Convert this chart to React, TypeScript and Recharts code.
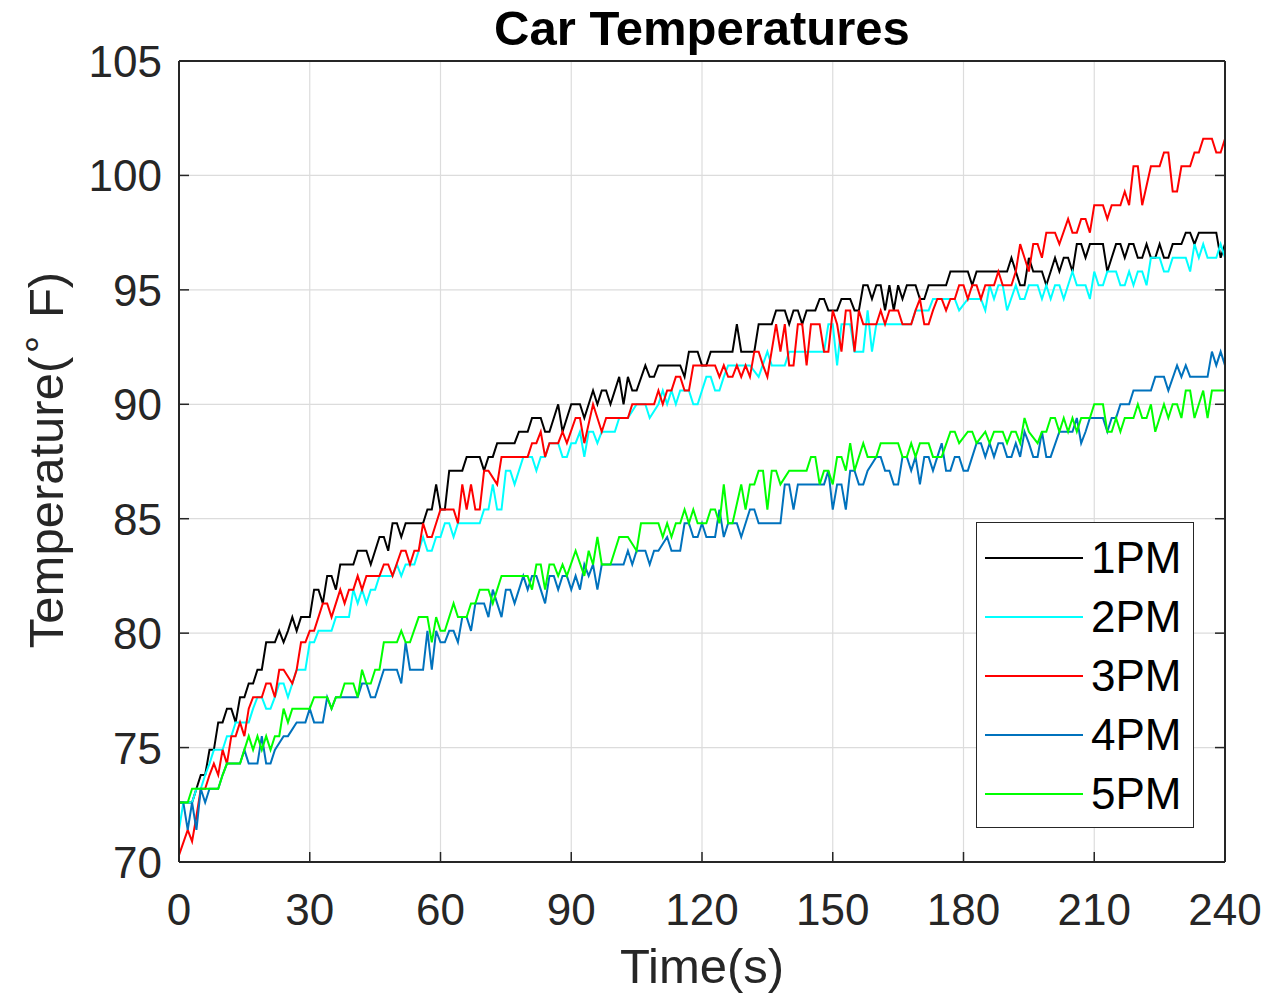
import React from 'react';
import { LineChart, Line, XAxis, YAxis, CartesianGrid, Legend } from 'recharts';

type P = [number, number];

const xTicks = [0, 30, 60, 90, 120, 150, 180, 210, 240];
const yTicks = [70, 75, 80, 85, 90, 95, 100, 105];

// time (s), temperature (°F)
const s1PM: P[] = [[0,72.6],[3,72.6],[4,73.2],[5,73.8],[6,73.8],[7,74.9],[8,74.9],[9,76.1],[10,76.1],[11,76.7],[12,76.7],[13,76.1],[14,77.2],[15,77.2],[16,77.8],[17,77.8],[18,78.4],[19,78.4],[20,79.6],[22,79.6],[23,80.1],[24,79.6],[25,80.1],[26,80.7],[27,80.1],[28,80.7],[30,80.7],[31,81.9],[32,81.9],[33,81.3],[34,82.5],[35,82.5],[36,81.9],[37,83.0],[40,83.0],[41,83.6],[43,83.6],[44,83.0],[46,84.2],[47,84.2],[48,83.6],[49,84.8],[50,84.8],[51,84.2],[52,84.8],[56,84.8],[57,85.4],[58,85.4],[59,86.5],[60,85.4],[61,85.4],[62,87.1],[65,87.1],[66,87.7],[69,87.7],[70,87.1],[71,87.7],[72,87.7],[73,88.3],[77,88.3],[78,88.8],[80,88.8],[81,89.4],[83,89.4],[84,88.8],[85,88.8],[87,90.0],[88,88.8],[90,90.0],[92,90.0],[93,89.4],[95,90.6],[96,90.0],[97,90.6],[98,90.6],[99,90.0],[101,91.2],[102,90.0],[103,91.2],[104,90.6],[105,90.6],[107,91.7],[108,91.2],[109,91.2],[110,91.7],[115,91.7],[116,91.2],[117,92.3],[119,92.3],[120,91.7],[121,91.7],[122,92.3],[127,92.3],[128,93.5],[129,92.3],[132,92.3],[133,93.5],[136,93.5],[137,94.1],[139,94.1],[140,93.5],[141,94.1],[142,94.1],[143,93.5],[144,94.1],[146,94.1],[147,94.6],[148,94.6],[149,94.1],[151,94.1],[152,94.6],[154,94.6],[155,94.1],[156,94.1],[157,95.2],[158,95.2],[159,94.6],[160,95.2],[161,95.2],[162,94.1],[163,95.2],[164,94.1],[165,95.2],[166,94.6],[167,95.2],[169,95.2],[170,94.6],[171,94.6],[172,95.2],[176,95.2],[177,95.8],[181,95.8],[182,95.2],[183,95.8],[190,95.8],[191,96.4],[192,95.8],[193,95.2],[194,95.2],[195,96.4],[196,95.8],[198,95.8],[199,95.2],[201,96.4],[202,95.8],[203,96.4],[204,96.4],[205,95.8],[206,97.0],[207,97.0],[208,96.4],[209,97.0],[212,97.0],[213,95.8],[214,96.4],[215,97.0],[216,97.0],[217,96.4],[218,97.0],[219,97.0],[220,96.4],[221,96.4],[222,97.0],[223,96.4],[224,96.4],[225,97.0],[226,96.4],[227,96.4],[228,97.0],[230,97.0],[231,97.5],[232,97.5],[233,97.0],[234,97.5],[238,97.5],[239,96.4],[240,97.0]];

const s2PM: P[] = [[0,71.4],[1,72.6],[3,72.6],[4,73.2],[5,73.2],[6,73.8],[7,74.3],[8,74.9],[10,74.9],[11,75.5],[12,75.5],[13,76.1],[16,76.1],[17,76.7],[18,77.2],[19,77.2],[20,76.7],[21,76.7],[22,77.2],[23,77.8],[24,77.8],[25,77.2],[26,77.8],[27,78.4],[29,78.4],[30,79.6],[31,79.6],[32,80.1],[35,80.1],[36,80.7],[39,80.7],[40,81.9],[41,81.3],[42,81.9],[43,81.3],[44,81.9],[45,81.9],[46,82.5],[49,82.5],[50,83.0],[51,82.5],[52,83.0],[54,83.0],[56,84.2],[57,83.6],[58,83.6],[59,84.2],[60,84.2],[61,84.8],[62,84.8],[63,84.2],[64,84.8],[69,84.8],[70,85.4],[71,85.4],[72,86.5],[73,85.4],[74,85.4],[75,87.1],[76,87.1],[77,86.5],[79,87.7],[81,87.7],[82,87.1],[83,87.7],[84,87.7],[85,88.3],[87,88.3],[88,87.7],[89,87.7],[90,88.3],[91,88.3],[92,88.8],[93,87.7],[94,88.8],[95,88.8],[96,88.3],[97,88.8],[100,88.8],[101,89.4],[103,89.4],[105,90.0],[107,90.0],[108,89.4],[110,90.0],[111,90.6],[112,90.0],[113,90.6],[114,90.0],[115,90.6],[117,90.6],[118,90.0],[119,90.0],[120,90.6],[121,91.2],[122,91.2],[123,90.6],[124,90.6],[125,91.2],[126,91.7],[131,91.7],[133,91.2],[135,92.3],[136,91.7],[139,91.7],[140,92.3],[148,92.3],[149,93.5],[150,93.5],[151,91.7],[152,93.5],[154,93.5],[155,92.3],[157,92.3],[158,94.1],[159,92.3],[160,93.5],[168,93.5],[169,94.1],[172,94.1],[173,94.6],[178,94.6],[179,94.1],[181,94.6],[184,94.6],[185,94.1],[186,95.2],[187,94.6],[188,95.2],[189,95.2],[190,94.1],[192,95.2],[193,94.6],[194,94.6],[195,95.2],[197,95.2],[198,94.6],[199,95.2],[200,94.6],[201,95.2],[202,95.2],[203,94.6],[204,95.2],[205,95.8],[206,95.2],[208,95.2],[209,94.6],[210,95.8],[211,95.2],[212,95.2],[213,95.8],[215,95.8],[216,95.2],[217,95.2],[218,95.8],[219,95.2],[220,95.8],[221,95.8],[222,95.2],[223,96.4],[225,96.4],[226,95.8],[227,95.8],[228,96.4],[231,96.4],[232,95.8],[233,97.0],[234,96.4],[235,97.0],[236,96.4],[238,96.4],[239,97.0],[240,96.4]];

const s3PM: P[] = [[0,70.3],[2,71.4],[3,70.9],[4,72.0],[5,73.2],[6,73.2],[7,73.8],[8,74.3],[9,73.8],[10,74.9],[11,74.3],[12,75.5],[13,75.5],[14,76.1],[15,75.5],[16,76.7],[17,77.2],[19,77.2],[20,77.8],[21,77.8],[22,77.2],[23,78.4],[24,78.4],[26,77.8],[27,78.4],[28,79.6],[29,79.6],[30,80.1],[31,80.1],[32,80.7],[33,81.3],[34,81.3],[35,80.7],[36,81.3],[37,81.9],[38,81.3],[39,81.9],[40,81.9],[41,82.5],[42,81.9],[43,82.5],[46,82.5],[47,83.0],[48,83.0],[49,82.5],[51,83.6],[52,83.6],[53,83.0],[54,83.6],[55,83.6],[56,84.8],[57,84.2],[58,84.2],[59,84.8],[60,85.4],[63,85.4],[64,84.8],[65,86.5],[66,85.4],[67,86.5],[68,85.4],[69,85.4],[70,87.1],[71,87.1],[73,86.5],[74,87.7],[80,87.7],[81,88.3],[82,88.3],[83,88.8],[84,87.7],[85,88.3],[87,88.3],[88,88.8],[89,88.3],[91,89.4],[92,89.4],[93,88.3],[95,90.0],[97,88.8],[98,89.4],[103,89.4],[104,90.0],[109,90.0],[110,90.6],[111,90.0],[112,90.6],[113,90.6],[114,91.2],[115,91.2],[116,90.6],[117,90.6],[118,91.7],[123,91.7],[124,91.2],[125,91.7],[126,91.2],[127,91.2],[128,91.7],[129,91.2],[130,91.7],[131,91.2],[132,92.3],[133,92.3],[134,91.7],[135,91.2],[137,93.5],[138,92.3],[139,93.5],[140,91.7],[141,91.7],[142,93.5],[143,93.5],[144,91.7],[145,93.5],[147,93.5],[148,92.3],[149,92.3],[150,94.1],[151,93.5],[152,92.3],[153,94.1],[154,94.1],[155,92.3],[156,94.1],[157,93.5],[160,93.5],[161,94.1],[162,93.5],[163,94.1],[165,94.1],[166,93.5],[168,93.5],[169,94.1],[170,94.6],[171,93.5],[172,93.5],[173,94.1],[174,94.6],[175,94.6],[176,94.1],[177,94.6],[178,94.6],[179,95.2],[180,95.2],[181,94.6],[182,95.2],[183,95.2],[184,94.6],[185,95.2],[187,95.2],[188,95.8],[189,95.2],[191,95.2],[192,95.8],[193,97.0],[194,96.4],[195,95.8],[196,97.0],[197,97.0],[198,96.4],[199,97.5],[201,97.5],[202,97.0],[204,98.1],[205,97.5],[206,97.5],[207,98.1],[208,98.1],[209,97.5],[210,98.7],[212,98.7],[213,98.1],[214,98.7],[216,98.7],[217,99.3],[218,98.7],[219,100.4],[220,100.4],[221,98.7],[223,100.4],[225,100.4],[226,101.0],[227,101.0],[228,99.3],[229,99.3],[230,100.4],[232,100.4],[233,101.0],[234,101.0],[235,101.6],[237,101.6],[238,101.0],[239,101.0],[240,101.6]];

const s4PM: P[] = [[0,72.6],[1,72.6],[2,71.4],[3,72.6],[4,71.4],[5,73.2],[6,72.6],[7,73.2],[9,73.2],[10,73.8],[11,74.3],[14,74.3],[15,74.9],[16,74.3],[18,74.3],[19,75.5],[20,74.3],[21,74.3],[22,74.9],[24,75.5],[25,75.5],[27,76.1],[29,76.1],[30,76.7],[31,76.1],[33,76.1],[34,77.2],[35,76.7],[36,77.2],[41,77.2],[42,77.8],[43,77.8],[44,77.2],[45,77.2],[47,78.4],[50,78.4],[51,77.8],[52,79.6],[53,78.4],[56,78.4],[57,80.1],[58,78.4],[59,80.1],[60,79.6],[61,79.6],[62,80.1],[63,80.1],[64,79.6],[65,80.7],[66,80.7],[67,80.1],[68,81.3],[70,81.3],[71,80.7],[72,81.9],[73,81.3],[74,80.7],[75,81.9],[76,81.9],[77,81.3],[79,82.5],[80,81.9],[81,82.5],[82,82.5],[83,81.9],[84,81.3],[85,82.5],[86,82.5],[87,81.9],[88,82.5],[89,82.5],[90,81.9],[91,82.5],[92,81.9],[93,83.0],[94,82.5],[95,83.0],[96,81.9],[97,83.0],[102,83.0],[103,83.6],[104,83.0],[105,83.6],[107,83.6],[108,83.0],[109,83.6],[110,83.6],[112,84.2],[113,83.6],[115,83.6],[116,84.8],[117,84.8],[118,84.2],[119,84.2],[120,84.8],[121,84.2],[123,84.2],[124,85.4],[125,84.2],[126,84.8],[128,84.8],[129,84.2],[131,85.4],[132,85.4],[133,84.8],[138,84.8],[139,86.5],[140,86.5],[141,85.4],[142,86.5],[148,86.5],[149,87.1],[150,85.4],[151,86.5],[152,86.5],[153,85.4],[154,87.1],[155,87.1],[156,86.5],[157,86.5],[158,87.1],[160,87.7],[161,87.7],[162,87.1],[163,87.1],[164,86.5],[165,86.5],[166,87.7],[167,87.7],[168,87.1],[169,87.7],[170,86.5],[171,87.7],[172,87.7],[173,87.1],[174,87.7],[175,88.3],[176,87.1],[177,87.1],[178,87.7],[179,87.7],[180,87.1],[181,87.1],[182,87.7],[183,88.3],[184,88.3],[185,87.7],[186,88.3],[187,87.7],[188,88.3],[189,88.3],[190,87.7],[191,87.7],[192,88.3],[193,87.7],[194,88.8],[195,88.3],[196,87.7],[197,87.7],[198,88.8],[199,87.7],[200,87.7],[202,88.8],[205,88.8],[206,89.4],[207,88.3],[208,88.8],[209,89.4],[212,89.4],[213,88.8],[214,89.4],[215,89.4],[216,90.0],[218,90.0],[219,90.6],[223,90.6],[224,91.2],[226,91.2],[227,90.6],[229,91.7],[230,91.2],[231,91.7],[232,91.2],[236,91.2],[237,92.3],[238,91.7],[239,92.3],[240,91.7]];

const s5PM: P[] = [[0,72.6],[2,72.6],[3,73.2],[9,73.2],[10,73.8],[11,74.3],[14,74.3],[15,74.9],[16,75.5],[17,74.9],[18,75.5],[19,74.9],[20,75.5],[21,74.9],[22,75.5],[23,75.5],[24,76.7],[25,76.1],[26,76.7],[30,76.7],[31,77.2],[34,77.2],[35,76.7],[36,77.2],[37,77.2],[38,77.8],[40,77.8],[41,77.2],[42,78.4],[43,77.8],[44,77.8],[45,78.4],[46,78.4],[47,79.6],[50,79.6],[51,80.1],[52,79.6],[53,79.6],[55,80.7],[57,80.7],[58,79.6],[59,80.7],[60,80.1],[61,80.1],[63,81.3],[64,80.7],[66,80.7],[67,81.3],[68,81.3],[69,81.9],[71,81.9],[72,81.3],[74,82.5],[80,82.5],[81,81.9],[82,83.0],[83,83.0],[84,81.9],[85,83.0],[86,83.0],[87,82.5],[88,83.0],[89,82.5],[91,83.6],[93,82.5],[94,83.6],[95,83.0],[96,84.2],[97,83.0],[99,83.0],[101,84.2],[103,84.2],[105,83.6],[106,84.8],[110,84.8],[111,84.2],[112,84.8],[113,84.2],[114,84.8],[115,84.8],[116,85.4],[117,84.8],[118,85.4],[119,84.8],[121,84.8],[122,85.4],[123,85.4],[124,84.8],[125,86.5],[126,84.8],[127,84.8],[129,86.5],[130,85.4],[131,86.5],[132,86.5],[133,87.1],[134,87.1],[135,85.4],[136,87.1],[137,87.1],[138,86.5],[140,87.1],[144,87.1],[145,87.7],[146,87.7],[147,86.5],[148,87.1],[149,87.1],[150,86.5],[151,87.7],[152,87.7],[153,87.1],[154,88.3],[155,87.1],[157,88.3],[158,87.7],[160,87.7],[161,88.3],[165,88.3],[166,87.7],[167,87.7],[168,88.3],[169,87.7],[170,88.3],[172,88.3],[173,87.7],[175,87.7],[177,88.8],[178,88.8],[179,88.3],[181,88.8],[182,88.8],[183,88.3],[185,88.8],[186,88.3],[187,88.8],[189,88.8],[190,88.3],[191,88.8],[192,88.8],[193,88.3],[194,89.4],[195,88.8],[197,88.3],[198,88.8],[199,88.8],[200,89.4],[201,89.4],[202,88.8],[203,89.4],[204,88.8],[205,89.4],[206,88.8],[207,89.4],[209,89.4],[210,90.0],[212,90.0],[213,88.8],[214,88.8],[215,89.4],[216,88.8],[217,89.4],[219,89.4],[220,90.0],[221,89.4],[222,89.4],[223,90.0],[224,88.8],[226,90.0],[227,89.4],[228,90.0],[229,90.0],[230,89.4],[231,90.6],[232,90.6],[233,89.4],[235,90.6],[236,89.4],[237,90.6],[240,90.6]];

const seriesNames = ['1PM', '2PM', '3PM', '4PM', '5PM'];
const seriesColors = ['#000000', '#00FFFF', '#FF0000', '#0072BD', '#00FF00'];
const seriesPoints = [s1PM, s2PM, s3PM, s4PM, s5PM];

const toData = (pts: P[]) => pts.map(([t, v]) => ({ t, v }));

const AXIS = '#262626';
const FONT = '"Liberation Sans", Arial, Helvetica, sans-serif';
const TICK_FS = 44;

const BottomTick = (props: any) => {
  const { x, y, payload } = props;
  return (
    <g>
      <line x1={x} x2={x} y1={y} y2={y - 10} stroke={AXIS} strokeWidth={1.5} />
      <text x={x} y={y + 63} textAnchor="middle" fontSize={TICK_FS} fill={AXIS} fontFamily={FONT}>
        {payload.value}
      </text>
    </g>
  );
};

const TopTick = (props: any) => {
  const { x, y } = props;
  return <line x1={x} x2={x} y1={y} y2={y + 10} stroke={AXIS} strokeWidth={1.5} />;
};

const LeftTick = (props: any) => {
  const { x, y, payload } = props;
  return (
    <g>
      <line x1={x} x2={x + 10} y1={y} y2={y} stroke={AXIS} strokeWidth={1.5} />
      <text x={x - 17} y={y + 16} textAnchor="end" fontSize={TICK_FS} fill={AXIS} fontFamily={FONT}>
        {payload.value}
      </text>
    </g>
  );
};

const RightTick = (props: any) => {
  const { x, y } = props;
  return <line x1={x} x2={x - 10} y1={y} y2={y} stroke={AXIS} strokeWidth={1.5} />;
};

const LegendBox = () => (
  <div
    style={{
      position: 'relative',
      width: 218,
      height: 306,
      boxSizing: 'border-box',
      border: `1.5px solid ${AXIS}`,
      background: '#fff',
    }}
  >
    {seriesNames.map((name, i) => (
      <div key={name} style={{ position: 'absolute', left: 0, top: 35 + i * 59 - 25, height: 50, width: 218 }}>
        <svg width={110} height={50} style={{ position: 'absolute', left: 0, top: 0 }}>
          <line x1={8} x2={106} y1={25} y2={25} stroke={seriesColors[i]} strokeWidth={2} />
        </svg>
        <span
          style={{
            position: 'absolute',
            left: 114,
            top: 0,
            lineHeight: '50px',
            fontSize: TICK_FS,
            fontFamily: FONT,
            color: '#000',
          }}
        >
          {name}
        </span>
      </div>
    ))}
  </div>
);

export default function App() {
  return (
    <div style={{ position: 'absolute', left: 0, top: 0, width: 1267, height: 994, background: '#fff' }}>
      <LineChart
        width={1267}
        height={994}
        margin={{ top: 51, right: 32, bottom: 72, left: 119 }}
      >
        <CartesianGrid stroke="#dcdcdc" strokeWidth={1.2} />
        {seriesPoints.map((pts, i) => (
          <Line
            key={seriesNames[i]}
            data={toData(pts)}
            dataKey="v"
            name={seriesNames[i]}
            stroke={seriesColors[i]}
            strokeWidth={2}
            dot={false}
            activeDot={false}
            type="linear"
            isAnimationActive={false}
          />
        ))}
        <XAxis
          dataKey="t"
          type="number"
          domain={[0, 240]}
          ticks={xTicks}
          interval={0}
          height={60}
          tickSize={0}
          tickMargin={0}
          tick={BottomTick}
          axisLine={{ stroke: AXIS, strokeWidth: 2 }}
          allowDataOverflow
        />
        <XAxis
          xAxisId="top"
          orientation="top"
          type="number"
          domain={[0, 240]}
          ticks={xTicks}
          interval={0}
          height={10}
          tickSize={0}
          tickMargin={0}
          tick={TopTick}
          axisLine={{ stroke: AXIS, strokeWidth: 2 }}
          allowDataOverflow
        />
        <YAxis
          type="number"
          domain={[70, 105]}
          ticks={yTicks}
          interval={0}
          width={60}
          tickSize={0}
          tickMargin={0}
          tick={LeftTick}
          axisLine={{ stroke: AXIS, strokeWidth: 2 }}
          allowDataOverflow
        />
        <YAxis
          yAxisId="right"
          orientation="right"
          type="number"
          domain={[70, 105]}
          ticks={yTicks}
          interval={0}
          width={10}
          tickSize={0}
          tickMargin={0}
          tick={RightTick}
          axisLine={{ stroke: AXIS, strokeWidth: 2 }}
          allowDataOverflow
        />
        <Legend
          layout="vertical"
          align="center"
          verticalAlign="middle"
          content={LegendBox}
          wrapperStyle={{ left: 976, top: 522, width: 218, height: 306 }}
        />
      </LineChart>
      <svg
        width={1267}
        height={994}
        style={{ position: 'absolute', left: 0, top: 0, pointerEvents: 'none' }}
      >
        <text x={702} y={45} textAnchor="middle" fontSize={49} fontWeight="bold" fill="#000" fontFamily={FONT}>
          Car Temperatures
        </text>
        <text x={702} y={983} textAnchor="middle" fontSize={49} fill={AXIS} fontFamily={FONT}>
          Time(s)
        </text>
        <text
          x={63}
          y={460}
          transform="rotate(-90 63 460)"
          textAnchor="middle"
          fontSize={49}
          fill={AXIS}
          fontFamily={FONT}
        >
          Temperature(
          <tspan dy={-18} fontSize={40}>∘</tspan>
          <tspan dy={18}> F)</tspan>
        </text>
      </svg>
    </div>
  );
}
